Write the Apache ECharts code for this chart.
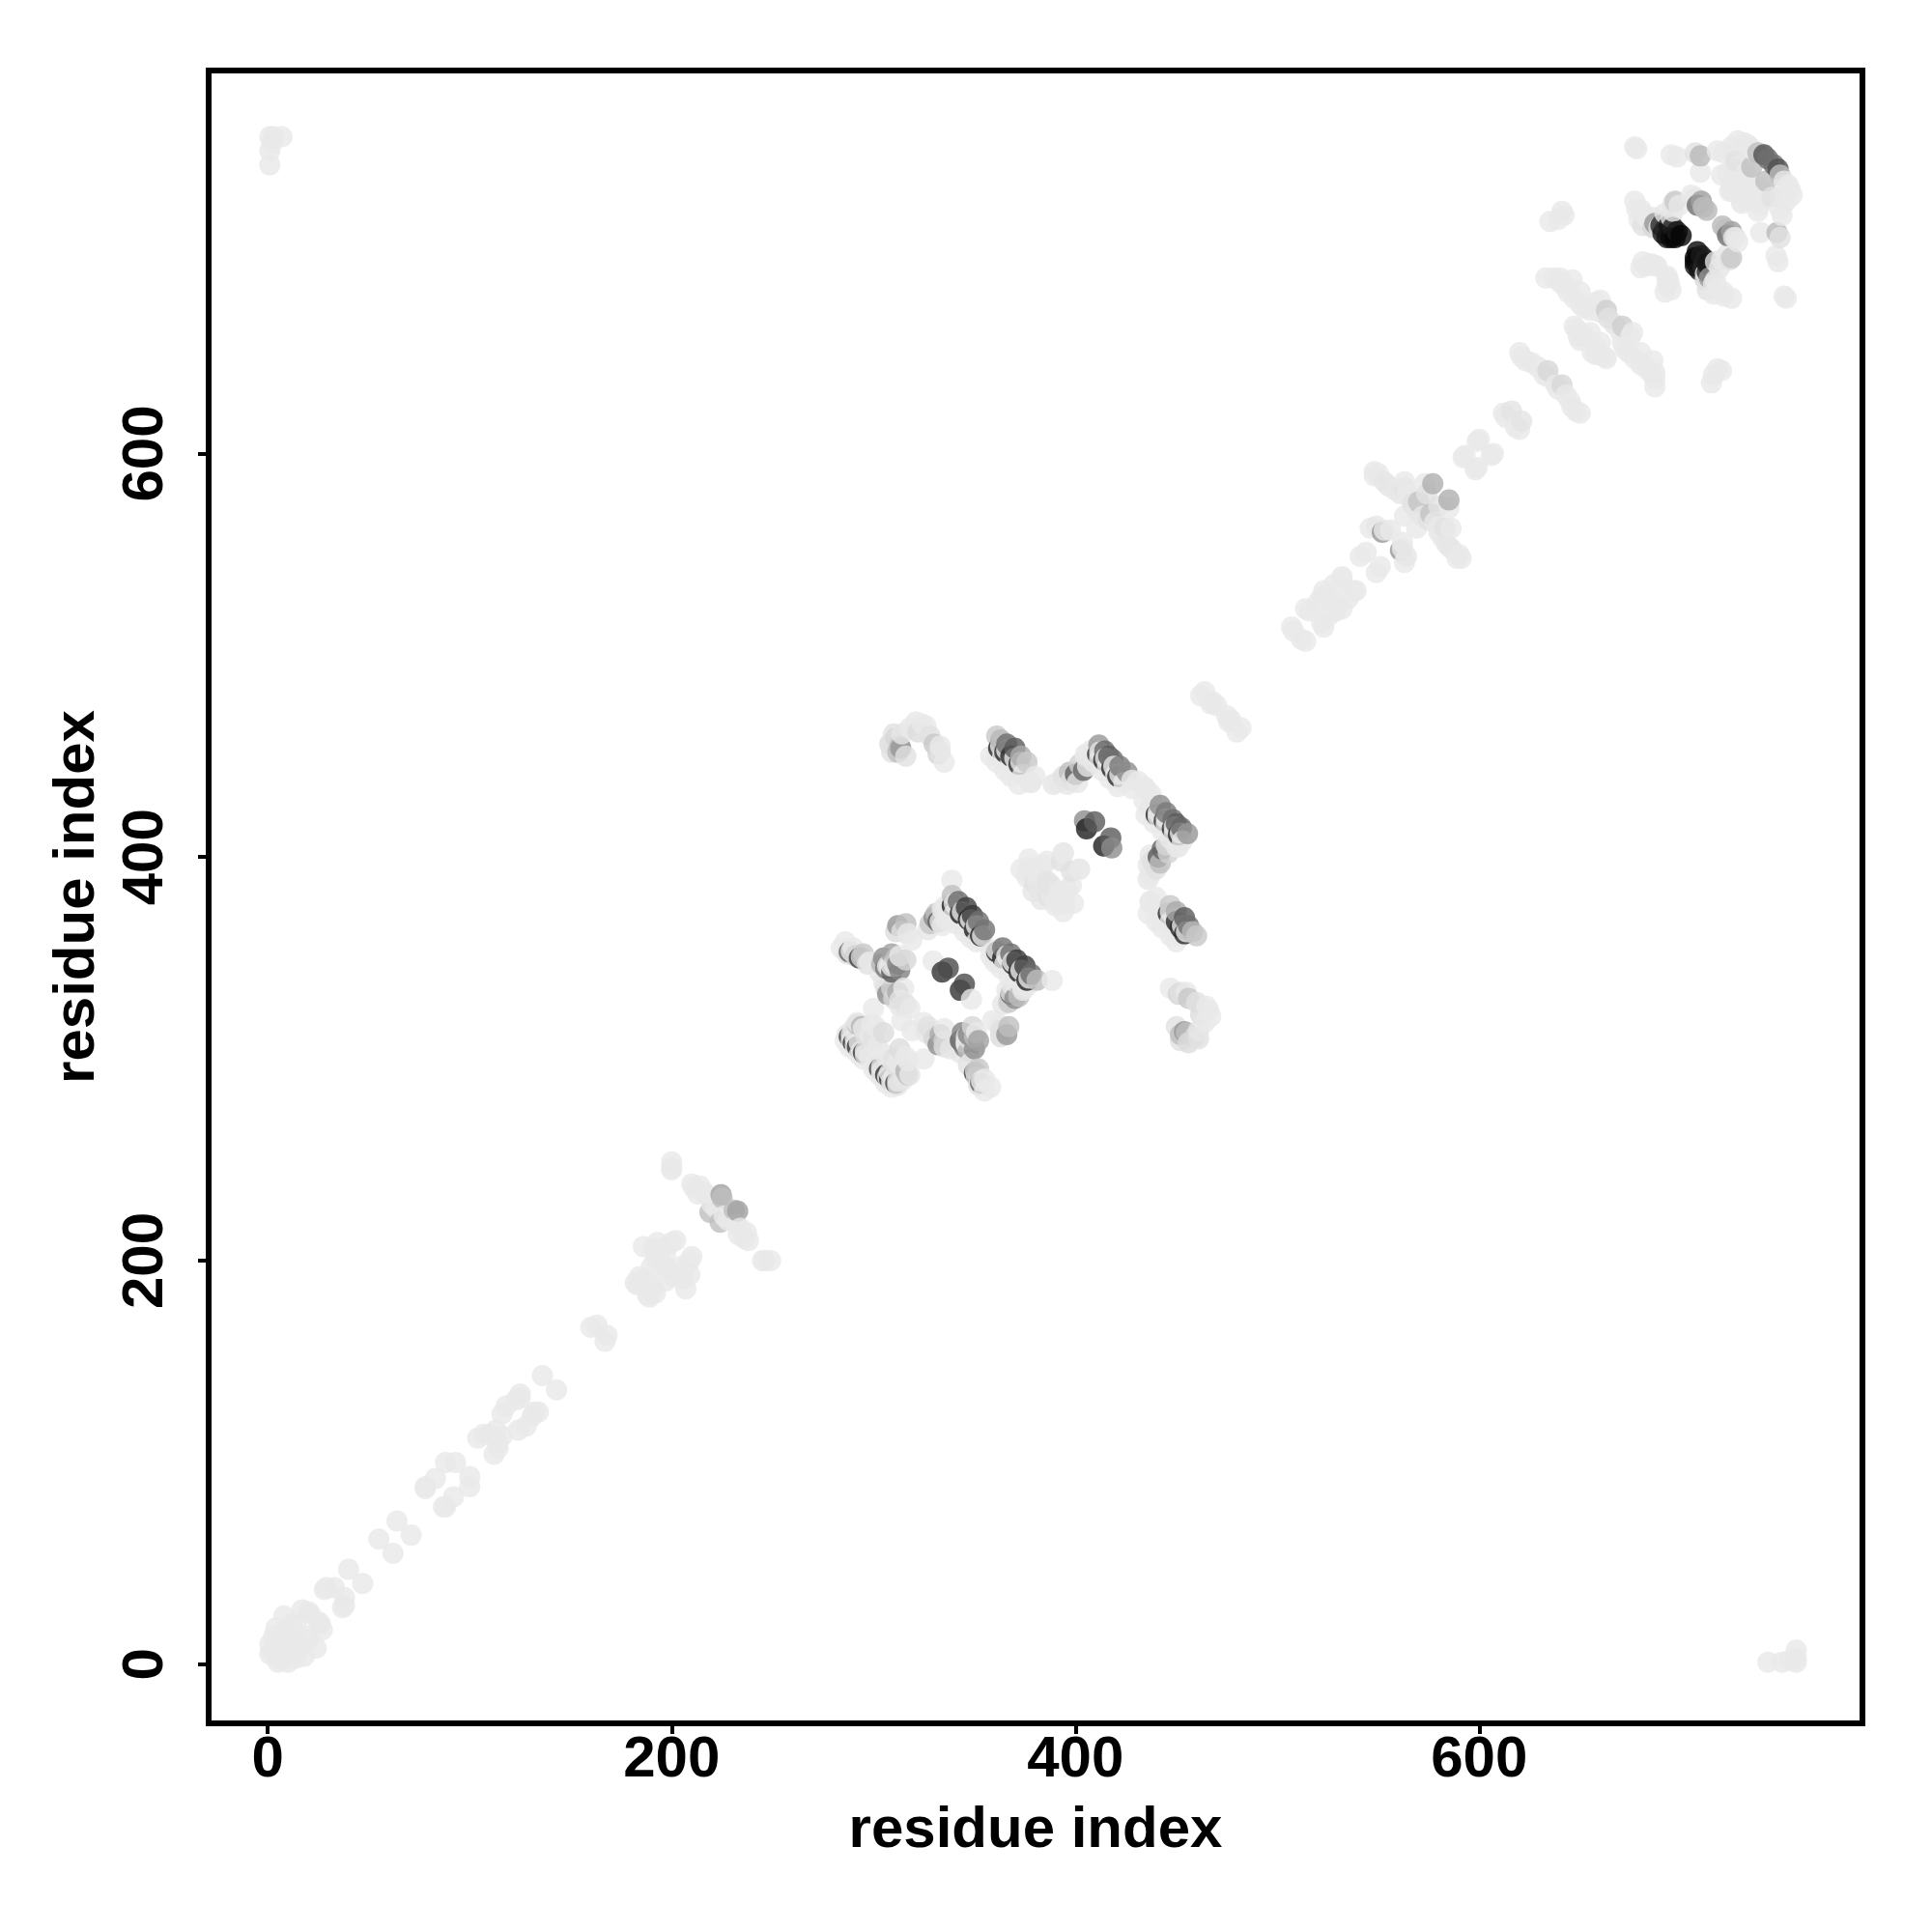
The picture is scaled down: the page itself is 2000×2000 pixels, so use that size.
<!DOCTYPE html>
<html><head><meta charset="utf-8">
<script src="https://cdn.jsdelivr.net/npm/echarts@6/dist/echarts.min.js"></script>
<style>html,body{margin:0;background:#fff}#c{width:2000px;height:2000px}</style>
</head><body><div id="c"></div>
<script>
const tickValues = [0, 200, 400, 600];
const axisTitle = 'residue index';
const lightShade = 233;

// contacts: [residue i, residue j, grey level]; a contact map is symmetric
const chainStart = [[1,10],[2,7],[1,5],[3,14],[4,18],[6,11],[8,24],[9,16],[10,13],[12,20],[14,19],[17,27],[20,26],[21,25],[28,37],[33,38],[29,38],[40,47],[55,62],[64,71]];
const chainEarly = [[78,87],[78,88],[83,92],[88,100],[93,100],[104,112],[107,114],[110,114],[113,116],[116,124],[118,128],[123,131],[125,134],[125,132],[136,143],[160,167],[163,168]];
const clusterA = [[182,189],[183,188],[184,192],[187,191],[191,206],[186,207],[193,209],[195,206],[197,204],[200,209],[202,210],[192,201],[190,197],[196,198],
  [200,245],[200,249],[200,246],[210,238],[211,236],[213,233],[214,237],[216,234],[218,232],[220,228],[222,226],[219,224,190],[225,231,190],[224.5,232.7,160]];
const ringFarLeft = [[284,355],[286,358],[287,352,225],[288,353,100],[289,353.5],[290,355],[291,351,210],[293,350,60],[294,350.5,210],[295,352,200],[297,347,225],[298,348]];
const ringLowerStrand = [[286,309],[288,306],[291,304],[293,302],[295,300],[287,312,228],[289,309,228],[291,307,228],[294,304,228],[296,302,228],[288,311,60],[290,308,50],[292,306,50],[295,303,60],
  [289,312],[291,310],[293,308],[296,304],[298,301],[290,315,230],[292,317,190],[294,316,180],[296,312,225],[299,317],[300,310,225],[300,325],[305,313,220],[301,316],
  [292,318],[295,315],[298,312],[300,309],[302,306]];
const ringInner = [[305,338,230],[306,335,225],[307,332,140],[309,335,210],[310,330,215],[312,333,170],[313,329,225],[315,335],[316,327,225],[318,325],[313,326,230],[314,319]];
const ringColumn = [[303,343,230],[304,347,180],[305,350,140],[306,345,120],[307,346],[308,346],[309,343,90],[309,352,160],[309,346],[310,347,225],[311,346,225],[312,347,130],[313,344,130],[311,350,190],[313,351],[316,349,215],
  [312,366,150],[311,363,220],[316,367,190],[314,363,225],[317,362],[319,359]];
const ringArc = [[327,364,230],[328,367,200],[330,370,140],[332,368,90],[333,368,225],[334,366],[331,372,190],[335,374,230],[336,369]];
const hairpinOne = [[329.5,348.5],[334,343,50],[337,345,75],[338.8,388.5],[334,374],[338,370],[341,367],[345,363],[348,360],[351,358],[336,376],[340,372],[343,369],[347,365],[350,361],[353,359],
  [339,376,30],[343,372,30],[347,369,30],[350,364,30],[353,361,30],[340,377],[344,373],[348,369],[351,366],[354,361],
  [339,381,190],[342,378,105],[346,375,60],[349,371,55],[352,368,110],[355,364,115]];
const sheetB = [[358,450],[361,447],[365,443],[368,440],[372,436],[361,452],[364,450],[368,447],[371,444],[374,441],[378,437],[362,454,40],[365,452,40],[368,450,40],[372,446,40],[363,455],[366,453],[370,449],[373,447],
  [361,460,200],[363,458,185],[366,456,110],[370,454,90],[373,450,170],[376,447,200],[378,437],[380,440]];
const sheetC = [[308,456,220],[309,452,225],[311,459,215],[312,452,190],[313,455,190],[313.5,454,150],[310,461,225],[314,461,230],[316,450,225],[318,464],[321,467],[322,462,220],[324,466],[326,465],[328,460,225],[330,456,200],[332,451,210],[333,452,225],[335,447],[333,455]];
const blobMid = [[377,395],[378,390],[380,387,225],[381,392],[384,396],[386,388,228],[384,382,230],[388,381],[390,376],[392,383],[394,373],[394,402],[398,386],[393,398,225],[399,377],[402,394],[379,383,230]];
const sheetD = [[389,436,230],[391,437],[394,440,225],[396,436,230],[397,442,190],[398,438,225],[400,441,90],[401,437,230],[402,446,210],[404,443,100],[405,450],[406,445,230],
  [404.5,418,140],[405.5,414,30],[409.5,417.5,90]];
const hairpinTwo = [[405,451],[409,447],[413,443],[417,439],[421,435],[408,453],[412,449],[416,445],[420,441],[424,437],[428,434],[411,451,40],[414,448,40],[418,444,40],[421,440,40],[412,452],[415,449],[419,445],[422,441],
  [411.6,455.5,150],[414.5,452.5,100],[416.5,450,90],[418.5,448.3,110],[422,445,120],[425.6,442,140],[428,438],[431,437.6],[434,435]];
const chainMid = [[462,480],[464,482],[467,476],[468,477],[470,475],[507,514],[508,512],[516,522],[514,523],[523,532],[525,530],[528,535],[532,539],[532,538],[522,529],[520,526],[541,549],[544,551]];
const crossE = [[546,563],[549,564,230],[552,561,150],[553,562],[556,562],[548,591],[550,590],[548,589],[553,586,230],[555,584,230],[558,582],[561,580,230],[563,586],[563,583,225],[564,580],[566,578],[567,575,225],[563,569],[569,572,230],[570,576,195],[573,585],[574,580,225],[577,585,175]];
const chainLate = [[592,598],[593,599],[599,606],[600,607],[612,620],[613,618],[616,621,228],[620,650],[621,648],[623,646],[626,645],[629,643],[632,639],[634,638],[634,641,215]];
const bandF = [[633,687],[637,687],[640,685],[640,687],[642,683],[644,680],[646,686],[647,677],[650,680],[650,674],[652,672],[655,671],[658,675],[660,676],[660,670],[664,667,225],[663,671,205],
  [648,662],[650,656],[652,658],[655,660],[647,663],[649,658],[635,715],[639,716],[642,718],[641,720]];
const domainEnd = [[677,752],[678,751],[695,748],[698,747],[707,749,225],[709.5,747.5,185],[709.5,739.4],
  [677,725],[678,721],[680,721],[679,716],[682,718],[684,716],[686,717],[681,713,225],[681,695],[683,693],[685,694],[687,693],[680,692],[688,693],
  [686,712,215],[689,712,225],[687,714,150],[690,713,40],[691,709,20],[692,711,40],[693,707,20],[694,713,20],[695,707,10],[696,712,30],[697,707,5],[698,710,25],[700,708,5],
  [692,719,230],[695,717,225],[696,720],[696,724,228],[697,725,200],[699,723],[705,728],[707,727],[707,726,225],[708,723,110],[710,725,160],[711,722,190],[712.7,720.5,185]];
const domainCorner = [[718,750],[721,749],[725,752],[727,745,225],[728,755],[731,754],[733,753],[735,751],[735,742,190],[738,749,190],[741,748,80],[743,746,110],
  [720,738],[723,739],[725,734],[726,741],[730,735],[732,739],[725,730],[730,724],[733,733]];
const farContacts = [[1,743],[1,750],[1,757],[2,754],[3,757],[7,757]];

const contactGroups = [chainStart, chainEarly, clusterA, ringFarLeft, ringLowerStrand, ringInner, ringColumn, ringArc, hairpinOne,
  sheetC, sheetB, blobMid, sheetD, hairpinTwo, chainMid, crossE, chainLate, bandF, domainEnd, domainCorner, farContacts];

const points = [];
contactGroups.forEach(function (group) {
  group.forEach(function (c) {
    const g = c.length > 2 ? c[2] : lightShade;
    const color = 'rgb(' + g + ',' + g + ',' + g + ')';
    points.push({ value: [c[0], c[1]], itemStyle: { color: color } });
    points.push({ value: [c[1], c[0]], itemStyle: { color: color } });
  });
});
// the reference paints residue by residue, so later residues lie on top
points.sort(function (a, b) { return a.value[0] - b.value[0] || a.value[1] - b.value[1]; });

const font = '"Liberation Sans", Arial, Helvetica, sans-serif';
function makeAxis(isY) {
  return {
    type: 'value', min: -29.3, max: 789.8,
    name: axisTitle, nameLocation: 'middle', nameGap: isY ? 106 : 81,
    nameTextStyle: { fontFamily: font, fontWeight: 'bold', fontSize: 60, color: '#000' },
    splitLine: { show: false },
    axisLine: { show: true, onZero: false, lineStyle: { color: '#000', width: 6 } },
    axisTick: { show: true, length: 11, inside: false, customValues: tickValues, lineStyle: { color: '#000', width: 4 } },
    axisLabel: { show: true, customValues: tickValues, margin: isY ? 35 : 8, rotate: isY ? 90 : 0, fontFamily: font, fontWeight: 'bold', fontSize: 60, color: '#000', showMinLabel: true, showMaxLabel: true }
  };
}
const chart = echarts.init(document.getElementById('c'), null, { renderer: 'canvas' });
chart.setOption({
  animation: false,
  backgroundColor: '#fff',
  grid: { left: 216, right: 72, top: 73, bottom: 216, show: true, borderColor: '#000', borderWidth: 6, backgroundColor: 'transparent' },
  xAxis: makeAxis(false),
  yAxis: makeAxis(true),
  series: [{ type: 'scatter', symbol: 'circle', symbolSize: 22, data: points, progressive: 0, large: false, silent: true, z: 5 }]
});
</script></body></html>
